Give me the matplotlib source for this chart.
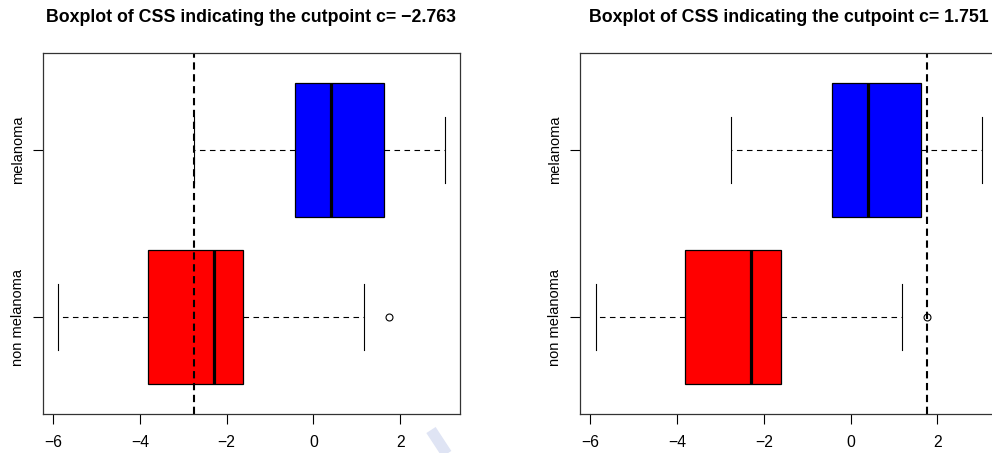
import numpy as np
import matplotlib
matplotlib.use("Agg")
import matplotlib.pyplot as plt
from matplotlib.lines import Line2D

plt.rcParams['font.family'] = ['Liberation Sans', 'DejaVu Sans']

# CSS summary per group (bottom to top)
groups = ["non melanoma", "melanoma"]
box_colors = ["#ff0000", "#0000ff"]
whislo = [-5.877, -2.763]
q1 = [-3.81, -0.42]
med = [-2.29, 0.40]
q3 = [-1.614, 1.63]
whishi = [1.175, 3.024]
outliers = [[1.751], []]

cutpoints = [-2.763, 1.751]
xticks = [-6, -4, -2, 0, 2]

stats = []
for i in range(len(groups)):
    stats.append({'whislo': whislo[i], 'q1': q1[i], 'med': med[i],
                  'q3': q3[i], 'whishi': whishi[i], 'fliers': outliers[i],
                  'label': groups[i]})

allvals = whislo + whishi + [v for o in outliers for v in o]
lo, hi = min(allvals), max(allvals)
pad = 0.04 * (hi - lo)
xlim = (lo - pad, hi + pad)

W, H = 992, 453
fig = plt.figure(figsize=(W / 100, H / 100), dpi=100)

panels = [43, 580.3]
for left, cut in zip(panels, cutpoints):
    ax = fig.add_axes([left / W, (H - 414) / H, 417 / W, 361 / H])
    bp = ax.bxp(stats, positions=[1, 2], vert=False, widths=0.8,
                patch_artist=True, showcaps=True,
                boxprops=dict(linewidth=0.9, edgecolor='black'),
                medianprops=dict(color='black', linewidth=2.3),
                whiskerprops=dict(color='black', linewidth=0.8,
                                  linestyle=(0, (5, 4))),
                capprops=dict(color='black', linewidth=0.8),
                flierprops=dict(marker='o', markerfacecolor='none',
                                markeredgecolor='black', markersize=5,
                                markeredgewidth=0.8))
    for patch, c in zip(bp['boxes'], box_colors):
        patch.set_facecolor(c)
    # caps at half the box width
    for cap in bp['caps']:
        y = cap.get_ydata()
        mid = (y[0] + y[1]) / 2
        cap.set_ydata([mid - 0.2, mid + 0.2])

    ax.axvline(cut, color='black', linewidth=1.5, linestyle=(0, (3.5, 2.2)))

    ax.set_xlim(xlim)
    ax.set_ylim(0.42, 2.58)
    ax.set_xticks(xticks)
    ax.set_xticklabels(["\u2212" + str(-t) if t < 0 else str(t) for t in xticks],
                       fontsize=11.3)
    ax.set_yticks([1, 2])
    ax.set_yticklabels(groups, rotation=90, va='center', fontsize=10.5)
    ax.tick_params(axis='both', length=7, width=0.8, color='black')
    ax.tick_params(axis='x', pad=8)
    ax.tick_params(axis='y', pad=6)
    for s in ax.spines.values():
        s.set_linewidth(0.9)
        s.set_color('#333333')
    ax.set_title("Boxplot of CSS indicating the cutpoint c= %s"
                 % ("\u2212%.3f" % -cut if cut < 0 else "%.3f" % cut),
                 fontsize=12.8, fontweight='bold', pad=22)

# faint diagonal stroke near the bottom edge
fig.add_artist(Line2D([431 / W, 448 / W], [(H - 430) / H, (H - 456) / H],
                      transform=fig.transFigure, color='#dfe4f4',
                      linewidth=8, solid_capstyle='butt'))

fig.savefig("out.png", dpi=100)
